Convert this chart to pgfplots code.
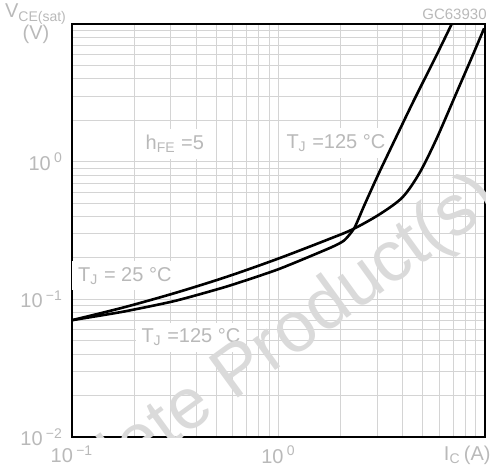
\documentclass[border=0pt]{standalone}
\usepackage{pgfplots}
\pgfplotsset{compat=1.18}
\usepackage{fontspec}
\setmainfont{Liberation Sans}
\definecolor{txt}{RGB}{185,185,185}
\definecolor{grd}{RGB}{212,212,212}
\definecolor{wm}{RGB}{218,218,218}
\begin{document}
\begin{tikzpicture}[x=0.5pt,y=0.5pt]
\path[use as bounding box] (-72,-36) rectangle (420,437);
\begin{axis}[
  at={(0,0)}, anchor=south west,
  scale only axis, width=206.5pt, height=206.5pt,
  xmode=log, ymode=log,
  xmin=0.1, xmax=10, ymin=0.01, ymax=10,
  xtick={0.1,1,10}, ytick={0.01,0.1,1,10},
  minor xtick={0.2,0.3,0.4,0.5,0.6,0.7,0.8,0.9,2,3,4,5,6,7,8,9},
  minor ytick={0.02,0.03,0.04,0.05,0.06,0.07,0.08,0.09,0.2,0.3,0.4,0.5,0.6,0.7,0.8,0.9,2,3,4,5,6,7,8,9},
  xticklabels={10\,\textsuperscript{−1},10\,\textsuperscript{0},{}},
  yticklabels={10\,\textsuperscript{−2},10\,\textsuperscript{−1},10\,\textsuperscript{0},{}},
  grid=both,
  major grid style={draw=grd, line width=0.45pt},
  minor grid style={draw=grd, line width=0.45pt},
  axis line style={black, line width=0.9pt},
  major tick length=0pt, minor tick length=0pt,
  tick label style={font=\fontsize{10}{11}\selectfont, text=txt},
  xticklabel style={yshift=-1pt},
  yticklabel style={xshift=-1pt},
  clip=true,
]
\node[fill=white, text=txt, font=\fontsize{10}{11}\selectfont, inner sep=3pt] at (rel axis cs:0.249,0.709) {h\textsubscript{FE} =5};
\node[fill=white, text=txt, font=\fontsize{10}{11}\selectfont, inner sep=3pt] at (rel axis cs:0.639,0.712) {T\textsubscript{J} =125 °C};
\node[fill=white, text=txt, font=\fontsize{10}{11}\selectfont, inner sep=3pt] at (rel axis cs:0.128,0.390) {T\textsubscript{J} = 25 °C};
\node[fill=white, text=txt, font=\fontsize{10}{11}\selectfont, inner sep=3pt] at (rel axis cs:0.288,0.242) {T\textsubscript{J} =125 °C};
\node[text=wm, font=\fontsize{36}{40}\selectfont, rotate=36] at (rel axis cs:0.387,0.140) {Obsolete Product(s)};
\addplot[black, line width=1.3pt, smooth, tension=0.5] coordinates {
(0.1,0.0706) (0.178,0.0874) (0.316,0.1113) (0.562,0.1459) (1.0,0.198) (1.778,0.276) (2.3,0.324) (3.08,0.414) (3.98,0.55) (4.8,0.82) (5.78,1.43) (7.2,3.05) (8.69,5.86) (9.9,9.3)
};
\addplot[black, line width=1.3pt, smooth, tension=0.35] coordinates {
(0.1,0.0706) (0.178,0.0815) (0.316,0.0975) (0.562,0.124) (1.0,0.1656) (1.778,0.2366) (2.08,0.268) (2.33,0.33) (2.6,0.48) (3.08,0.84) (4.45,2.65) (5.78,5.8) (6.9,10)
};
\end{axis}
\node[text=txt, font=\fontsize{7.5}{8}\selectfont, anchor=south east, inner sep=0pt] at (415,417) {GC63930};
\node[text=txt, font=\fontsize{10}{11}\selectfont, align=center, inner sep=0pt] at (-36,413) {V\textsubscript{CE(sat)}\\(V)};
\node[text=txt, font=\fontsize{10}{11}\selectfont, anchor=east, inner sep=0pt] at (419,-18) {I\textsubscript{C}\,(A)};
\end{tikzpicture}
\end{document}
